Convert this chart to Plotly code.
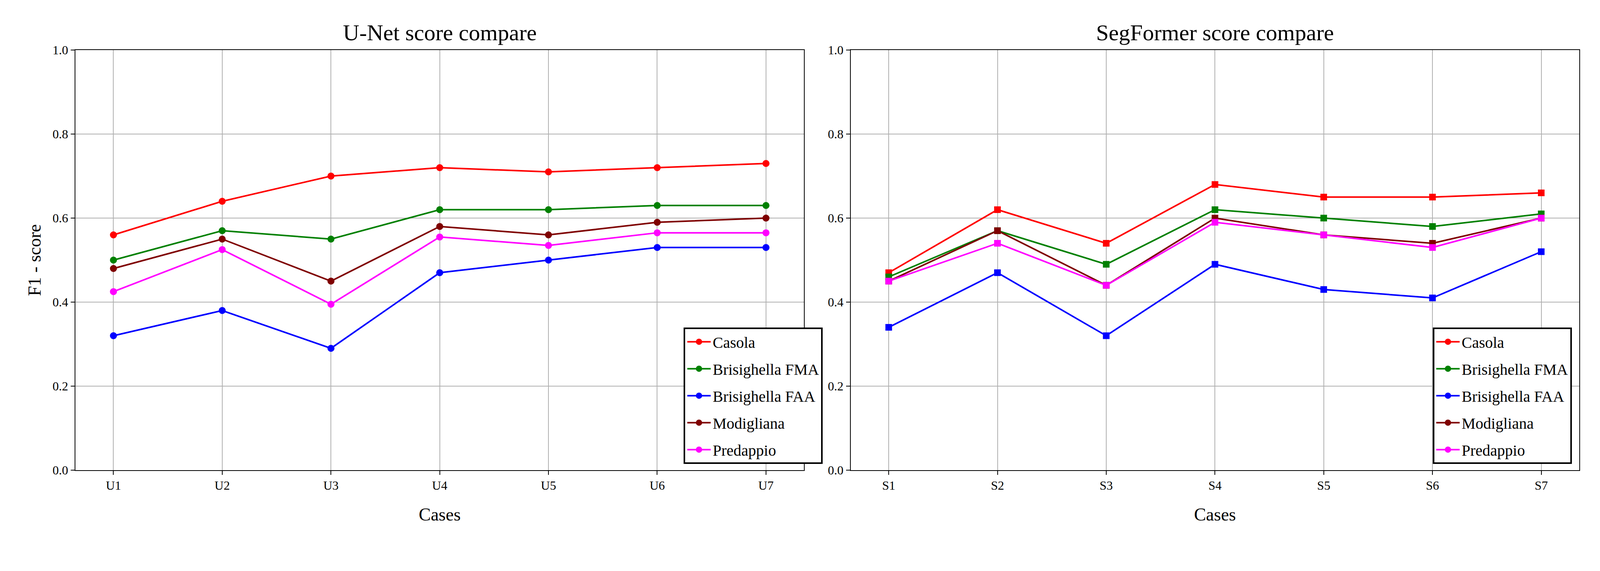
import plotly.graph_objects as go
from plotly.subplots import make_subplots

unet_cases = ["U1","U2","U3","U4","U5","U6","U7"]
seg_cases = ["S1","S2","S3","S4","S5","S6","S7"]
names = ["Casola","Brisighella FMA","Brisighella FAA","Modigliana","Predappio"]
colors = ["#ff0000","#008000","#0000ff","#7f0000","#ff00ff"]

unet_casola = [0.56,0.64,0.70,0.72,0.71,0.72,0.73]
unet_fma = [0.50,0.57,0.55,0.62,0.62,0.63,0.63]
unet_faa = [0.32,0.38,0.29,0.47,0.50,0.53,0.53]
unet_mod = [0.48,0.55,0.45,0.58,0.56,0.59,0.60]
unet_pred = [0.425,0.525,0.395,0.555,0.535,0.565,0.565]

seg_casola = [0.47,0.62,0.54,0.68,0.65,0.65,0.66]
seg_fma = [0.46,0.57,0.49,0.62,0.60,0.58,0.61]
seg_faa = [0.34,0.47,0.32,0.49,0.43,0.41,0.52]
seg_mod = [0.45,0.57,0.44,0.60,0.56,0.54,0.60]
seg_pred = [0.45,0.54,0.44,0.59,0.56,0.53,0.60]

unet = [unet_casola,unet_fma,unet_faa,unet_mod,unet_pred]
seg = [seg_casola,seg_fma,seg_faa,seg_mod,seg_pred]

F = "Liberation Serif, Times New Roman, serif"
fig = make_subplots(rows=1, cols=2, horizontal_spacing=0.031,
                    subplot_titles=["U-Net score compare","SegFormer score compare"])
for n,c,v in zip(names,colors,unet):
    fig.add_trace(go.Scatter(x=unet_cases,y=v,name=n,mode="lines+markers",
        line=dict(color=c,width=4),marker=dict(color=c,size=18,symbol="circle"),
        legend="legend",legendgroup="u"+n),row=1,col=1)
for n,c,v in zip(names,colors,seg):
    fig.add_trace(go.Scatter(x=seg_cases,y=v,name=n,mode="lines+markers",
        line=dict(color=c,width=4),marker=dict(color=c,size=17,symbol="square"),
        showlegend=False),row=1,col=2)
for n,c in zip(names,colors):
    fig.add_trace(go.Scatter(x=[None],y=[None],name=n,mode="lines+markers",
        line=dict(color=c,width=4),marker=dict(color=c,size=22,symbol="circle"),
        legend="legend2",legendgroup="s"+n),row=1,col=2)

ax = dict(showline=True,linecolor="black",linewidth=2,mirror=True,showgrid=True,
          gridcolor="#b0b0b0",gridwidth=2,ticks="outside",tickwidth=2,ticklen=10,
          tickcolor="black",tickfont=dict(size=32,family=F,color="black"),zeroline=False)
for col in (1,2):
    fig.update_xaxes(ax,title=dict(text="Cases",font=dict(size=46,family=F,color="black"),standoff=40),row=1,col=col)
    fig.update_yaxes(ax,range=[0,1],dtick=0.2,tickformat=".1f",row=1,col=col)
fig.update_xaxes(range=[-0.35,6.35])
fig.update_yaxes(title=dict(text="F1 - score",font=dict(size=46,family=F,color="black")),row=1,col=1)
for a in fig.layout.annotations:
    a.font = dict(size=58,family=F,color="black")
    a.yshift = 10

leg = dict(font=dict(size=40,family=F,color="black"),bordercolor="black",borderwidth=4,
           bgcolor="white",xanchor="right",yanchor="bottom",tracegroupgap=14,itemwidth=60)
fig.update_layout(width=4060,height=1420,plot_bgcolor="white",paper_bgcolor="white",
    margin=dict(l=185,r=25,t=120,b=225),
    legend=dict(leg,x=0.497,y=0.015),legend2=dict(leg,x=0.995,y=0.015))
fig.write_html("out.html")
